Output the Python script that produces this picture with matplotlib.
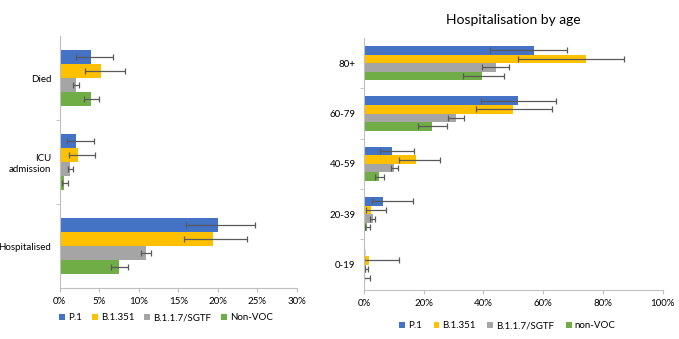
import matplotlib.pyplot as plt
import numpy as np
from matplotlib.ticker import PercentFormatter, FixedLocator

plt.rcParams['font.family'] = ['Lato', 'DejaVu Sans']

variants = ['P.1', 'B.1.351', 'B.1.1.7/SGTF', 'Non-VOC']
colors = ['#4472C4', '#FFC000', '#A5A5A5', '#70AD47']

# outcomes (top to bottom), values in %, per variant
outcomes = ['Died', 'ICU\nadmission', 'Hospitalised']
out_val = [[3.9, 2.0, 20.0],
           [5.2, 2.3, 19.4],
           [2.0, 1.35, 10.9],
           [3.9, 0.55, 7.5]]
out_lo = [[2.1, 0.9, 16.0],
          [3.2, 1.2, 15.7],
          [1.7, 1.1, 10.3],
          [3.1, 0.3, 6.5]]
out_hi = [[6.8, 4.3, 24.7],
          [8.3, 4.4, 23.7],
          [2.4, 1.65, 11.6],
          [5.0, 1.0, 8.6]]

# hospitalisation by age group (top to bottom)
ages = ['80+', '60-79', '40-59', '20-39', '0-19']
age_val = [[57.0, 51.7, 9.5, 6.5, 0.0],
           [74.2, 50.0, 17.4, 2.3, 1.8],
           [44.1, 30.8, 10.0, 2.9, 0.6],
           [39.6, 22.7, 5.0, 1.0, 0.45]]
age_lo = [[42.1, 39.1, 5.4, 2.8, 0.0],
          [51.5, 37.5, 11.6, 0.7, 0.1],
          [39.6, 28.3, 8.9, 2.1, 0.2],
          [33.0, 18.0, 3.8, 0.2, 0.1]]
age_hi = [[68.0, 64.4, 16.7, 16.5, 0.0],
          [87.2, 62.8, 25.4, 7.4, 11.8],
          [48.7, 33.6, 11.4, 3.8, 1.3],
          [46.8, 27.8, 6.7, 2.0, 2.0]]


def draw(ax, cats, vals, lo, hi, labels, xmax, step, bh):
    n = len(cats)
    y0 = np.arange(n)
    for i in range(4):
        v = np.array(vals[i])
        err = [v - np.array(lo[i]), np.array(hi[i]) - v]
        ypos = y0 + (i - 1.5) * bh
        ax.barh(ypos, v, height=bh, color=colors[i], label=labels[i],
                xerr=err, error_kw=dict(ecolor='#595959', elinewidth=0.9,
                                        capsize=2.5, capthick=0.9))
    ax.set_ylim(n - 0.5, -0.5)
    ax.set_xlim(0, xmax)
    ax.set_xticks(np.arange(0, xmax + 0.01, step))
    ax.xaxis.set_major_formatter(PercentFormatter(decimals=0))
    ax.set_yticks(y0)
    ax.set_yticklabels(cats)
    ax.tick_params(axis='y', length=0, labelsize=7, pad=6)
    ax.yaxis.set_minor_locator(FixedLocator(np.arange(0.5, n - 0.5, 1)))
    ax.tick_params(axis='y', which='minor', length=3, color='#BFBFBF')
    ax.tick_params(axis='x', length=3, color='#BFBFBF', labelsize=7)
    for s in ['top', 'right']:
        ax.spines[s].set_visible(False)
    for s in ['left', 'bottom']:
        ax.spines[s].set_color('#BFBFBF')
        ax.spines[s].set_linewidth(0.8)


fig = plt.figure(figsize=(6.79, 3.39), dpi=100)

ax1 = fig.add_axes([0.088, 0.150, 0.349, 0.743])
draw(ax1, outcomes, out_val, out_lo, out_hi, variants, 30, 5, 0.1667)
ax1.legend(loc='upper left', bbox_to_anchor=(-0.02, -0.085), ncol=4,
           frameon=False, fontsize=7, handlelength=0.6, handleheight=0.6,
           handletextpad=0.35, columnspacing=1.0, borderaxespad=0)

ax2 = fig.add_axes([0.536, 0.145, 0.440, 0.743])
draw(ax2, ages, age_val, age_lo, age_hi,
     ['P.1', 'B.1.351', 'B.1.1.7/SGTF', 'non-VOC'], 100, 20, 0.17)
ax2.set_title('Hospitalisation by age', fontsize=10, pad=10)
ax2.legend(loc='upper center', bbox_to_anchor=(0.48, -0.11), ncol=4,
           frameon=False, fontsize=7, handlelength=0.6, handleheight=0.6,
           handletextpad=0.3, columnspacing=1.2, borderaxespad=0)

fig.savefig('out.png', dpi=100)
